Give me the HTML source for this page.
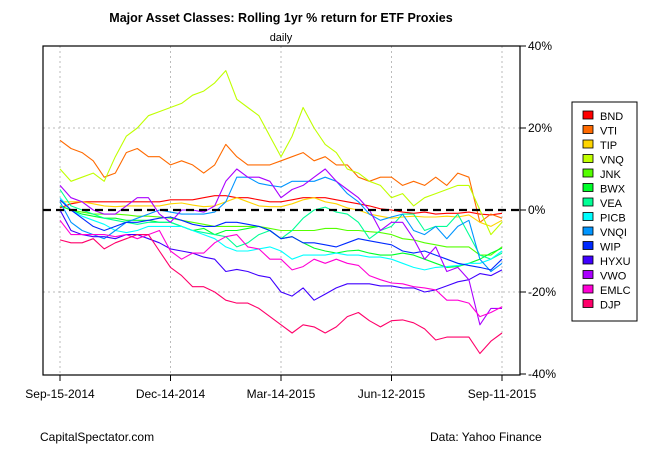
<!DOCTYPE html>
<html><head><meta charset="utf-8"><style>
body{margin:0;background:#fff}
svg{display:block;font-family:"Liberation Sans",Arial,sans-serif}
</style></head><body>
<svg id="chart" width="650" height="450" viewBox="0 0 650 450">
<rect x="0" y="0" width="650" height="450" fill="#fff"/>
<text x="281" y="22" text-anchor="middle" font-size="12.5" font-weight="bold">Major Asset Classes: Rolling 1yr % return for ETF Proxies</text>
<text x="281" y="41" text-anchor="middle" font-size="11">daily</text>
<g id="grid"></g>
<g id="series"></g>
<line x1="43" y1="210" x2="520" y2="210" stroke="#000" stroke-width="2.2" stroke-dasharray="8,5"/>
<rect x="43" y="46" width="477" height="329" fill="none" stroke="#000" stroke-width="1.2"/>
<g id="yaxis"></g>
<g id="xaxis"></g>
<g id="legend"></g>
<text x="40" y="441" font-size="12">CapitalSpectator.com</text>
<text x="430" y="441" font-size="12">Data: Yahoo Finance</text>
</svg>
<script>
const names=["BND","VTI","TIP","VNQ","JNK","BWX","VEA","PICB","VNQI","WIP","HYXU","VWO","EMLC","DJP"];
const colors=["#ff0000","#ff6a00","#ffd500","#c0ff00","#55ff00","#00ff2a","#00ff95","#00ffff","#0095ff","#002aff","#4000ff","#aa00ff","#ff00d5","#ff006a"];
const yTicks=[40,20,0,-20,-40];
const xLabels=["Sep-15-2014","Dec-14-2014","Mar-14-2015","Jun-12-2015","Sep-11-2015"];
const xLabelIdx=[0,10,20,30,40];
const BND=[0.5,1.5,2,2,2,2,2,2,2,2,2.5,2.5,2.5,3,3.5,3.5,3,3,2.5,2,2,2.5,3,3,3,2.5,2,1.5,1,0.3,0,-0.5,-0.8,-0.5,-1,-0.8,-0.8,-0.5,-1,-1.2,-0.8];
const VTI=[17,15,14,12,8,9,14,15,13,13,11,12,11,9,11,16,13,11,11,11,12,13,14,12,13,11,11,8,7,8,8,6,7,6,8,6,9,8,-3,-1,-2];
const TIP=[2,2,2,1.5,1,0.8,1,1,1,1,1.5,1.7,1.2,0.8,1,2,3,2,1,0.8,0.8,1.5,2.5,3,2,1.5,0.5,0,-1,-1.5,-2,-1.7,-1.5,-1.7,-1.7,-1.5,-1.7,-1.2,-3,-4,-2.5];
const VNQ=[10,7,8,9,7,13,18,20,23,24,25,26,28,29,31,34,27,25,23,18,13,18,25,20,16,14,10,9,7,6,3,4,1,3,4,5,6,6,0,-6,-3];
const JNK=[1,0,-0.5,-1,-1,-1,-1.2,-1.5,-1.5,-1.7,-2,-2.5,-3,-3.5,-4,-4,-4,-4,-4,-4.5,-5,-5,-5,-5,-4.5,-4.5,-5,-5,-5.3,-5.5,-6,-7,-7.3,-8,-8.5,-9,-9,-9,-11,-11,-9];
const BWX=[1,0,-1,-1.5,-2,-2,-2.5,-2.5,-2.5,-3,-3,-4,-5,-4.5,-6,-5,-5,-4.5,-4,-5,-7,-6.5,-8,-9.3,-10,-10.5,-10,-9.8,-10.5,-11,-11,-10.5,-11,-12,-13,-14,-13.8,-13,-12,-10.5,-9.3];
const VEA=[5,1,0,-1,-2,-2.5,-3,-3.5,-3,-3,-3,-4,-5,-5.5,-6,-6.5,-9,-8,-6,-5,-7,-5,-2,0,0.7,-0.5,-1,-3,-7,-5,-4,-1,-1,-5,-4,-4,-1,-6,-11,-12,-10.5];
const PICB=[3,0,-1.5,-2.5,-3.5,-5,-5.5,-5,-4,-4,-4,-4,-5,-6,-7,-9,-10,-10,-9.5,-9,-10,-12,-11,-11,-11,-10.5,-11,-11,-11.5,-11.5,-12,-13,-14,-14.6,-14,-13.8,-13.5,-13,-13,-12,-10];
const VNQI=[2,-3,-5,-6,-7,-5,-3,-2,-1,0,-0.5,-1,-1,-1,-0.5,2,8,8,6.5,6,5.6,7,7,7,8,7,4,2,-1,-2.5,-1.7,-1,-5,-6,-4,-7,-4,-2.5,-12,-15,-13];
const WIP=[2.5,0,-2,-4,-5,-4,-3,-3,-2.5,-2,-1.7,-2.5,-3.5,-4,-4,-3,-3,-3.5,-4,-5,-7,-6.5,-8,-8,-8.5,-9,-8,-7,-7.5,-8,-8.5,-10,-10.5,-10,-11,-12,-13,-13.5,-14,-14.6,-12];
const HYXU=[0,-5,-6,-6.5,-6.5,-7,-6,-6,-7,-8,-9.5,-10,-10.5,-11.5,-12,-15,-14.5,-15,-16,-16.5,-20,-21,-19,-22,-20.5,-19,-18,-18,-18,-18.5,-18.5,-19,-19,-20,-19.5,-18.5,-17.5,-17,-15.5,-16,-14.6];
const VWO=[6,3,2,0,-1,-1,1,3,3,-1,-3,0,0,-0.5,1,7,10,8,8,7,3,5,6,8,10,7,5,3,0,-5,-3,-3,-7,-12,-9,-15,-14,-17,-28,-24,-24];
const EMLC=[-2.5,-6,-6,-6,-6,-6.5,-6,-7,-6,-5,-10,-12,-10.5,-10.5,-8,-6.5,-6,-9,-9.5,-12,-12,-14.6,-13.8,-12,-13,-12,-13,-13.5,-16,-17,-17.8,-18,-18.7,-19,-19.5,-22,-22,-22.7,-26,-25,-23.6];
const DJP=[-7.3,-8,-8,-7,-9.5,-8,-7,-6,-6,-10,-14,-16,-18.7,-18.7,-20,-22,-22.7,-22.7,-24,-26,-28,-30,-28,-28.5,-30,-28.5,-26,-25,-27,-28.5,-27,-26.8,-27.5,-29,-31.7,-31,-31,-31,-35,-32,-30];
const seriesData=[BND,VTI,TIP,VNQ,JNK,BWX,VEA,PICB,VNQI,WIP,HYXU,VWO,EMLC,DJP];

const NS="http://www.w3.org/2000/svg";
const X0=60,X1=502,NPTS=41;
function xScale(i){return X0+(X1-X0)*i/(NPTS-1);}
function yScale(v){return 210-v*4.1;}
function mk(tag,attrs,parent){const e=document.createElementNS(NS,tag);for(const k in attrs)e.setAttribute(k,attrs[k]);parent.appendChild(e);return e;}
const grid=document.getElementById('grid'),ser=document.getElementById('series'),ya=document.getElementById('yaxis'),xa=document.getElementById('xaxis'),lg=document.getElementById('legend');

xLabelIdx.forEach((idx,k)=>{
  const x=xScale(idx);
  const g=mk('line',{x1:x,y1:46,x2:x,y2:375,stroke:'#bbb','stroke-dasharray':'2,3'},grid);
  
  
  const t=mk('line',{x1:x,y1:375,x2:x,y2:381,stroke:'#000'},xa);
  
  
  const l=mk('text',{x:x,y:398,'text-anchor':'middle','font-size':'12'},xa);
  l.textContent=xLabels[k];
  
  
});
yTicks.forEach(v=>{
  const y=yScale(v);
  if(v!==0&&Math.abs(v)<40){
    const g=mk('line',{x1:43,y1:y,x2:520,y2:y,stroke:'#bbb','stroke-dasharray':'2,3'},grid);
    
    
  }
  const t=mk('line',{x1:520,y1:y,x2:526,y2:y,stroke:'#000'},ya);
  
  
  const l=mk('text',{x:528,y:y+4,'font-size':'12'},ya);
  l.textContent=v+'%';
  
  
});
seriesData.forEach((arr,s)=>{
  const n=arr.length;
  const pts=arr.map((v,i)=>(X0+(X1-X0)*i/(n-1)).toFixed(1)+','+yScale(v).toFixed(1)).join(' ');
  const p=mk('polyline',{points:pts,fill:'none',stroke:colors[s],'stroke-width':'1.1','stroke-linejoin':'round'},ser);
  
  
});
const lb=mk('rect',{x:572,y:102,width:65,height:219,fill:'#fff',stroke:'#000','stroke-width':'1'},lg);


names.forEach((nm,i)=>{
  const y=116+i*14.5;
  const r=mk('rect',{x:583,y:y-5,width:10,height:8,fill:colors[i],stroke:'#000','stroke-width':'0.8'},lg);
  
  
  const t=mk('text',{x:600,y:y+4,'font-size':'11'},lg);
  t.textContent=nm;
  
  
});
</script>
</body></html>
